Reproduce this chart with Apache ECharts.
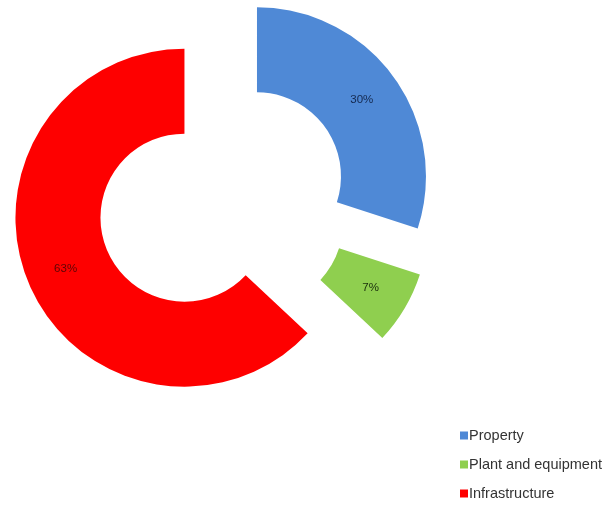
<!DOCTYPE html>
<html>
<head>
<meta charset="utf-8">
<script src="https://cdn.jsdelivr.net/npm/echarts@6/dist/echarts.min.js"></script>
<style>
  html, body { margin: 0; padding: 0; background: #fff; }
  #chart { width: 604px; height: 506px; }
</style>
</head>
<body>
<div id="chart"></div>
<script>
// data
var categories = ['Property', 'Plant and equipment', 'Infrastructure'];
var shares = [30, 7, 63];
var sliceColors = ['#4f89d6', '#8fcf4f', '#fe0000'];
var labelColors = ['#14294f', '#1a300c', '#5c0505'];

var myChart = echarts.init(document.getElementById('chart'));

var seriesData = categories.map(function (name, i) {
  return {
    name: name,
    value: shares[i],
    selected: true,
    itemStyle: { color: sliceColors[i] },
    label: { color: labelColors[i] }
  };
});

myChart.setOption({
  animation: false,
  legend: {
    orient: 'vertical',
    left: 455,
    top: 423,
    height: 83,
    itemWidth: 8,
    itemHeight: 8,
    itemGap: 14,
    icon: 'rect',
    selectedMode: false,
    data: categories,
    textStyle: {
      fontFamily: 'Liberation Sans, Arial',
      fontSize: 14.5,
      padding: [0, 0, 0, -4],
      color: '#333'
    }
  },
  series: [{
    type: 'pie',
    center: [223, 201],
    radius: [84, 169],
    startAngle: 90,
    clockwise: true,
    selectedMode: 'multiple',
    selectedOffset: 42,
    avoidLabelOverlap: false,
    label: {
      show: true,
      position: 'inside',
      formatter: '{c}%',
      fontFamily: 'Liberation Sans, Arial',
      fontSize: 11.5
    },
    labelLine: { show: false },
    emphasis: { disabled: true },
    data: seriesData
  }]
});
</script>
</body>
</html>
